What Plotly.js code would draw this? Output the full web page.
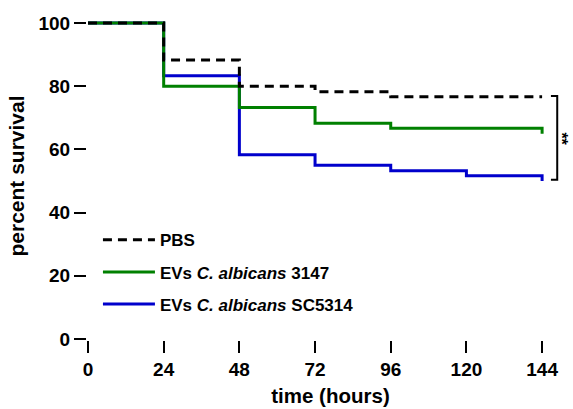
<!DOCTYPE html>
<html>
<head>
<meta charset="utf-8">
<script src="https://cdn.plot.ly/plotly-3.0.1.min.js"></script>
<style>html,body{margin:0;padding:0;background:#fff;}#chart{width:573px;height:409px;}</style>
</head>
<body>
<div id="chart"></div>
<script>
// Kaplan-Meier survival data (hours, percent survival)
const pbsTime = [0, 24, 48, 72, 96, 144];
const pbsSurv = [100, 88.3, 80.0, 78.3, 76.7, 76.7];

const ev3147Time = [0, 24, 48, 72, 96, 144, 144];
const ev3147Surv = [100, 80.0, 73.3, 68.3, 66.7, 66.7, 65.0];

const evSC5314Time = [0, 24, 48, 72, 96, 120, 144, 144];
const evSC5314Surv = [100, 83.3, 58.3, 55.0, 53.3, 51.7, 51.7, 50.0];

const xTicks = [0, 24, 48, 72, 96, 120, 144];
const yTicks = [0, 20, 40, 60, 80, 100];

const names = ['PBS', 'EVs <i>C. albicans</i> 3147', 'EVs <i>C. albicans</i> SC5314'];

const traces = [
  {x: pbsTime, y: pbsSurv, name: names[0], legendgroup: 'a', mode: 'lines', zorder: 3,
   line: {shape: 'hv', color: '#000000', width: 3, dash: '9px,6px'}},
  {x: ev3147Time, y: ev3147Surv, name: names[1], legendgroup: 'b', mode: 'lines', zorder: 2,
   line: {shape: 'hv', color: '#008000', width: 3}},
  {x: evSC5314Time, y: evSC5314Surv, name: names[2], legendgroup: 'c', mode: 'lines', zorder: 1,
   line: {shape: 'hv', color: '#0000CC', width: 3}}
];

const font = {family: 'Liberation Sans, Arial, sans-serif', color: '#000', weight: 'bold'};

const layout = {
  width: 573, height: 409,
  margin: {l: 88, r: 0, t: 13, b: 70},
  paper_bgcolor: '#fff', plot_bgcolor: '#fff',
  showlegend: true,
  legend: {x: 0.0205, y: 0.358, xanchor: 'left', yanchor: 'top', traceorder: 'grouped',
           tracegroupgap: 7, itemwidth: 52, font: Object.assign({}, font, {size: 17}), bgcolor: 'rgba(0,0,0,0)'},
  xaxis: {range: [0, 153.8], tickvals: xTicks, ticktext: xTicks.map(String),
          showline: true, linecolor: '#000', linewidth: 2, mirror: true,
          ticks: 'outside', ticklen: 12, tickwidth: 2, tickcolor: '#000',
          showgrid: false, zeroline: false, automargin: false,
          tickfont: Object.assign({}, font, {size: 19}),
          title: {text: 'time (hours)', font: Object.assign({}, font, {size: 20.5}), standoff: 10}},
  yaxis: {range: [0, 103.2], tickvals: yTicks, ticktext: yTicks.map(String),
          showline: true, linecolor: '#000', linewidth: 2,
          ticks: 'outside', ticklen: 12, tickwidth: 2, tickcolor: '#000',
          showgrid: false, zeroline: false, automargin: false,
          tickfont: Object.assign({}, font, {size: 19}),
          title: {text: 'percent survival', font: Object.assign({}, font, {size: 21}), standoff: 8}},
  shapes: [
    {type: 'path', xref: 'x', yref: 'y', path: 'M 146.8 76.9 L 148.8 76.9 L 148.8 50.4 L 146.8 50.4',
     line: {color: '#000', width: 2}}
  ],
  annotations: [
    {x: 150.2, y: 63.3, xref: 'x', yref: 'y', text: '**', showarrow: false, textangle: 90,
     font: Object.assign({}, font, {size: 16})}
  ]
};

Plotly.newPlot('chart', traces, layout, {displayModeBar: false, staticPlot: true});
</script>
</body>
</html>
